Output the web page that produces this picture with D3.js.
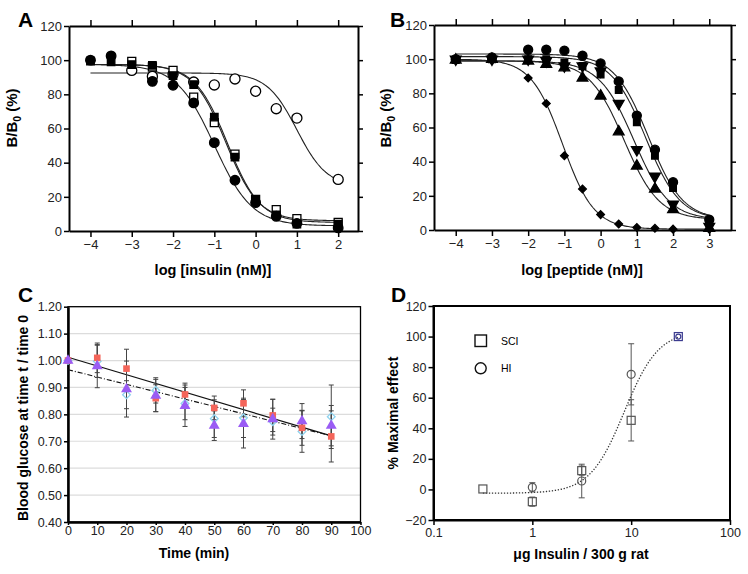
<!DOCTYPE html>
<html>
<head>
<meta charset="utf-8">
<script src="https://cdn.jsdelivr.net/npm/d3@7"></script>
<style>
body { margin: 0; background: #fff; }
text { font-family: "Liberation Sans", Arial, sans-serif; }
</style>
</head>
<body>
<script>
// ---- panel A : insulin competition ----
var logInsulin = [-4, -3.5, -3, -2.5, -2, -1.5, -1, -0.5, 0, 0.5, 1, 2];
var aFilledCircle = [100, 102.5, null, 87.6, 85.3, 75, 51.7, 29.7, 16.6, 8.6, 4.5, 1.8];
var aFilledSquare = [99.5, 99, 97.4, 97, 91, 85.7, 66.7, 43.3, 18, 9.5, 4, 4];
var aOpenSquare = [null, null, 99.3, 96, 94, 78.4, 63.4, 45, 18.5, 12.5, 7.2, 5];
var aOpenCircle = [null, null, 94, 90.5, 91.7, 87.2, 85.5, 89, 81.8, 71.6, 66.1, 30.2];
// fit parameters: top, bottom, logIC50, hill
var aFitFilledCircle = [97.5, 3, -1.0, 0.95];
var aFitFilledSquare = [97.5, 5, -0.68, 1.1];
var aFitOpenSquare = [97.5, 6, -0.72, 1.1];
var aFitOpenCircle = [92.5, 26, 1.0, 1.2];

// ---- panel B : peptide competition ----
var logPeptide = [-4, -3, -2, -1.5, -1, -0.5, 0, 0.5, 1, 1.5, 2, 3];
var bCircle = [100, 101, 105.5, 105.5, 105, 102, 97.5, 87, 67, 47, 28, 6];
var bSquare = [99.5, 100, 100, 100, 98, 96, 91, 82, 63, 43.5, 24.5, 5];
var bDown = [100, 100, 100, 99, 96, 96, 93, 74, 47, 31.5, 15, 2];
var bUp = [99.5, 100, 99, 97, 95, 89, 78.5, 57.5, 37.5, 24, 12, 1];
var bDiamond = [100, 100, 89, 74, 43.5, 24, 9, 3.5, 1.5, 1, 0.5, 0.5];
var bFitCircle = [103, 6, 1.32, 0.92];
var bFitSquare = [101.5, 6, 1.25, 0.92];
var bFitDown = [99, 6, 0.92, 0.9];
var bFitUp = [99, 6, 0.65, 0.9];
var bFitDiamond = [100, 0.5, -1.05, 1.0];

// ---- panel C : blood glucose over time ----
var timeMin = [0, 10, 20, 30, 40, 50, 60, 70, 80, 90];
var cRed = [1.00, 1.01, 0.97, 0.86, 0.874, 0.824, 0.841, 0.796, 0.75, 0.718];
var cRedErr = [0, 0.055, 0.072, 0.05, 0.042, 0.044, 0.05, 0.06, 0.065, 0.095];
var cPurple = [1.00, 0.979, 0.894, 0.87, 0.832, 0.758, 0.765, 0.782, 0.775, 0.758];
var cPurpleErr = [0, 0.08, 0.104, 0.06, 0.077, 0.055, 0.09, 0.074, 0.065, 0.075];
var cBlue = [1.00, 0.997, 0.873, 0.889, 0.84, 0.784, 0.787, 0.773, 0.736, 0.791];
var cBlueErr = [0, 0.06, 0.052, 0.047, 0.06, 0.07, 0.073, 0.05, 0.077, 0.118];
// regression lines: [t0, y0, t1, y1]
var cLineSolid = [0, 1.012, 90, 0.72];
var cLineDash = [0, 0.966, 90, 0.72];
var cYTicks = [0.40, 0.50, 0.60, 0.70, 0.80, 0.90, 1.00, 1.10, 1.20];
var cXTicks = [0, 10, 20, 30, 40, 50, 60, 70, 80, 90, 100];

// ---- panel D : dose response ----
var doseSCI = [0.316, 1, 3.16, 10, 30];
var effSCI = [0.3, -8, 12.3, 45.2, 100];
var errSCI = [0, 3, 3, 13.5, 0];
var doseHI = [1, 3.16, 10, 30];
var effHI = [1.4, 5.5, 75.3, 100];
var errHI = [3, 11, 20, 0];
var dFit = [104, -2.5, 0.93, 2.5];
var dXTicks = [0.1, 1, 10, 100];
var dYTicks = [-20, 0, 20, 40, 60, 80, 100, 120];

function logistic(p, x) {
  return p[1] + (p[0] - p[1]) / (1 + Math.pow(10, (x - p[2]) * p[3]));
}

var svg = d3.select("body").append("svg")
  .attr("width", 748).attr("height", 574);

function styleAxis(g, size) {
  g.attr("font-family", null).attr("font-size", size);
  g.selectAll("text").attr("fill", "#222");
  g.selectAll("path,line").attr("stroke", "#000");
  g.select(".domain").attr("stroke-width", 2);
  g.selectAll(".tick line").attr("stroke-width", 1.5);
}

// boxed axes with mirrored ticks (panels A and B)
function frameAxes(x, y, xTicks) {
  var r = x.range(), h = y.range();
  var b = svg.append("g").attr("transform", "translate(0," + h[0] + ")")
    .call(d3.axisBottom(x).tickValues(xTicks).tickSize(6).tickSizeOuter(0).tickPadding(3).tickFormat(d3.format("d")));
  styleAxis(b, 13);
  var t = svg.append("g").attr("transform", "translate(0," + h[1] + ")")
    .call(d3.axisTop(x).tickValues(xTicks).tickSize(6).tickSizeOuter(0).tickFormat(""));
  styleAxis(t, 13);
  var l = svg.append("g").attr("transform", "translate(" + r[0] + ",0)")
    .call(d3.axisLeft(y).tickValues(d3.range(0, 121, 20)).tickSize(5).tickSizeOuter(0).tickPadding(2));
  styleAxis(l, 13);
  var rr = svg.append("g").attr("transform", "translate(" + r[1] + ",0)")
    .call(d3.axisRight(y).tickValues(d3.range(0, 121, 20)).tickSize(5).tickSizeOuter(0).tickFormat(""));
  styleAxis(rr, 13);
}

function panelLetter(txt, x, y) {
  svg.append("text").attr("x", x).attr("y", y).text(txt)
    .attr("font-size", 21).attr("font-weight", "bold");
}

function bb0Label(x, y) {
  var t = svg.append("text").attr("transform", "translate(" + x + "," + y + ") rotate(-90)")
    .attr("text-anchor", "middle").attr("font-size", 15).attr("font-weight", "bold");
  t.append("tspan").text("B/B");
  t.append("tspan").text("0").attr("font-size", 10.5).attr("dy", 4);
  t.append("tspan").text(" (%)").attr("dy", -4);
}

function drawFit(x, y, p, x0, x1) {
  var pts = d3.range(0, 201).map(function(i){ var v = x0 + (x1 - x0) * i / 200; return [v, logistic(p, v)]; });
  svg.append("path").datum(pts)
    .attr("fill", "none").attr("stroke", "#222").attr("stroke-width", 1.1)
    .attr("d", d3.line().x(function(d){ return x(d[0]); }).y(function(d){ return y(d[1]); }));
}

function drawPoints(x, y, xs, ys, type, size, fill, rot) {
  var pts = xs.map(function(v, i){ return [v, ys[i]]; }).filter(function(d){ return d[1] != null; });
  svg.append("g").selectAll("path").data(pts).enter().append("path")
    .attr("d", d3.symbol().type(type).size(size))
    .attr("transform", function(d){ return "translate(" + x(d[0]) + "," + y(d[1]) + ")" + (rot ? " rotate(" + rot + ")" : ""); })
    .attr("fill", fill).attr("stroke", "#000").attr("stroke-width", 1.3);
}

// ================= A =================
var xA = d3.scaleLinear().domain([-4.52, 2.48]).range([69, 358]);
var yA = d3.scaleLinear().domain([0, 120]).range([231, 26]);
frameAxes(xA, yA, [-4, -3, -2, -1, 0, 1, 2]);
drawFit(xA, yA, aFitFilledCircle, -4, 2);
drawFit(xA, yA, aFitFilledSquare, -4, 2);
drawFit(xA, yA, aFitOpenSquare, -4, 2);
drawFit(xA, yA, aFitOpenCircle, -4, 2);
drawPoints(xA, yA, logInsulin, aOpenCircle, d3.symbolCircle, 80, "#fff");
drawPoints(xA, yA, logInsulin, aOpenSquare, d3.symbolSquare, 64, "#fff");
drawPoints(xA, yA, logInsulin, aFilledSquare, d3.symbolSquare, 56, "#000");
drawPoints(xA, yA, logInsulin, aFilledCircle, d3.symbolCircle, 72, "#000");
panelLetter("A", 18, 27);
bb0Label(17, 118);
svg.append("text").attr("x", 213).attr("y", 275).attr("text-anchor", "middle")
  .attr("font-size", 14.5).attr("font-weight", "bold").text("log [insulin (nM)]");

// ================= B =================
var xB = d3.scaleLinear().domain([-4.6, 3.6]).range([434, 731]);
var yB = d3.scaleLinear().domain([0, 120]).range([230, 25]);
frameAxes(xB, yB, [-4, -3, -2, -1, 0, 1, 2, 3]);
[bFitCircle, bFitSquare, bFitDown, bFitUp, bFitDiamond].forEach(function(p){ drawFit(xB, yB, p, -4, 3); });
drawPoints(xB, yB, logPeptide, bDiamond, d3.symbolSquare, 30, "#000", 45);
drawPoints(xB, yB, logPeptide, bUp, d3.symbolTriangle, 50, "#000");
drawPoints(xB, yB, logPeptide, bDown, d3.symbolTriangle, 50, "#000", 180);
drawPoints(xB, yB, logPeptide, bSquare, d3.symbolSquare, 44, "#000");
drawPoints(xB, yB, logPeptide, bCircle, d3.symbolCircle, 64, "#000");
panelLetter("B", 390, 27);
bb0Label(391, 118);
svg.append("text").attr("x", 582).attr("y", 275).attr("text-anchor", "middle")
  .attr("font-size", 14.5).attr("font-weight", "bold").text("log [peptide (nM)]");

// ================= C =================
var xC = d3.scaleLinear().domain([0, 100]).range([68, 360.5]);
var yC = d3.scaleLinear().domain([0.4, 1.2]).range([522, 306.7]);
svg.append("g").selectAll("line").data(cYTicks.slice(1, -1)).enter().append("line")
  .attr("x1", xC(0)).attr("x2", xC(100))
  .attr("y1", function(d){ return yC(d); }).attr("y2", function(d){ return yC(d); })
  .attr("stroke", "#dcdcdc").attr("stroke-width", 1.2);
svg.append("rect").attr("x", xC(0)).attr("y", yC(1.2))
  .attr("width", xC(100) - xC(0)).attr("height", yC(0.4) - yC(1.2))
  .attr("fill", "none").attr("stroke", "#000").attr("stroke-width", 1.3);
var cl = svg.append("g").attr("transform", "translate(" + xC(0) + ",0)")
  .call(d3.axisLeft(yC).tickValues(cYTicks).tickSize(4).tickSizeOuter(0).tickPadding(2).tickFormat(d3.format(".2f")));
styleAxis(cl, 12.5);
cl.select(".domain").attr("stroke-width", 2.5);
var cb = svg.append("g").attr("transform", "translate(0," + yC(0.4) + ")")
  .call(d3.axisBottom(xC).tickValues(cXTicks).tickSize(3).tickSizeOuter(0).tickPadding(1).tickFormat(d3.format("d")));
styleAxis(cb, 12.5);
cb.select(".domain").attr("stroke-width", 2.5);

// regression lines
svg.append("line").attr("x1", xC(cLineSolid[0])).attr("y1", yC(cLineSolid[1]))
  .attr("x2", xC(cLineSolid[2])).attr("y2", yC(cLineSolid[3]))
  .attr("stroke", "#111").attr("stroke-width", 1.1);
svg.append("line").attr("x1", xC(cLineDash[0])).attr("y1", yC(cLineDash[1]))
  .attr("x2", xC(cLineDash[2])).attr("y2", yC(cLineDash[3]))
  .attr("stroke", "#111").attr("stroke-width", 1.1).attr("stroke-dasharray", "5,2,1,2");

// error bars
function errBars(xs, ys, es) {
  var g = svg.append("g").attr("stroke", "#444").attr("stroke-width", 1);
  xs.forEach(function(t, i){
    if (!es[i]) return;
    var lo = yC(ys[i] - es[i]), hi = yC(ys[i] + es[i]), cx = xC(t);
    g.append("line").attr("x1", cx).attr("x2", cx).attr("y1", lo).attr("y2", hi);
    g.append("line").attr("x1", cx - 2.5).attr("x2", cx + 2.5).attr("y1", lo).attr("y2", lo);
    g.append("line").attr("x1", cx - 2.5).attr("x2", cx + 2.5).attr("y1", hi).attr("y2", hi);
  });
}
errBars(timeMin, cRed, cRedErr);
errBars(timeMin, cPurple, cPurpleErr);
errBars(timeMin, cBlue, cBlueErr);

svg.append("g").selectAll("path").data(timeMin).enter().append("path")
  .attr("d", d3.symbol().type(d3.symbolSquare).size(30))
  .attr("transform", function(d, i){ return "translate(" + xC(d) + "," + yC(cBlue[i]) + ") rotate(45)"; })
  .attr("fill", "none").attr("stroke", "#8fd3ef").attr("stroke-width", 1.3);
svg.append("g").selectAll("rect").data(timeMin).enter().append("rect")
  .attr("x", function(d){ return xC(d) - 3.3; }).attr("y", function(d, i){ return yC(cRed[i]) - 3.3; })
  .attr("width", 6.6).attr("height", 6.6).attr("fill", "#f4655a");
svg.append("g").selectAll("path").data(timeMin).enter().append("path")
  .attr("d", d3.symbol().type(d3.symbolTriangle).size(52))
  .attr("transform", function(d, i){ return "translate(" + xC(d) + "," + yC(cPurple[i]) + ")"; })
  .attr("fill", "#9a5cf4");

panelLetter("C", 18, 302);
svg.append("text").attr("transform", "translate(28,418) rotate(-90)").attr("text-anchor", "middle")
  .attr("font-size", 14).attr("font-weight", "bold").text("Blood glucose at time t / time 0");
svg.append("text").attr("x", 194).attr("y", 558).attr("text-anchor", "middle")
  .attr("font-size", 14).attr("font-weight", "bold").text("Time (min)");

// ================= D =================
var xD = d3.scaleLog().domain([0.1, 100]).range([433.5, 730]);
var yD = d3.scaleLinear().domain([-20, 120]).range([520, 306]);
svg.append("rect").attr("x", xD(0.1)).attr("y", yD(120))
  .attr("width", xD(100) - xD(0.1)).attr("height", yD(-20) - yD(120))
  .attr("fill", "none").attr("stroke", "#000").attr("stroke-width", 2);
var dl = svg.append("g").attr("transform", "translate(" + xD(0.1) + ",0)")
  .call(d3.axisLeft(yD).tickValues(dYTicks).tickSize(5).tickSizeOuter(0).tickPadding(2));
styleAxis(dl, 12.5);
var db = svg.append("g").attr("transform", "translate(0," + yD(-20) + ")")
  .call(d3.axisBottom(xD).tickValues(dXTicks).tickSize(5).tickSizeOuter(0).tickPadding(3).tickFormat(function(d){ return String(d); }));
styleAxis(db, 12.5);

var dPts = d3.range(0, 201).map(function(i){
  var lv = Math.log10(0.316) + (Math.log10(30) - Math.log10(0.316)) * i / 200;
  return [Math.pow(10, lv), logistic([dFit[1], dFit[0], dFit[2], dFit[3]], lv)];
});
svg.append("path").datum(dPts).attr("fill", "none").attr("stroke", "#333")
  .attr("stroke-width", 1.3).attr("stroke-dasharray", "1.3,1.7")
  .attr("d", d3.line().x(function(d){ return xD(d[0]); }).y(function(d){ return yD(d[1]); }));

function dErr(xs, ys, es) {
  var g = svg.append("g").attr("stroke", "#555").attr("stroke-width", 1);
  xs.forEach(function(v, i){
    if (!es[i]) return;
    var cx = xD(v), lo = yD(ys[i] - es[i]), hi = yD(ys[i] + es[i]);
    g.append("line").attr("x1", cx).attr("x2", cx).attr("y1", lo).attr("y2", hi);
    g.append("line").attr("x1", cx - 3).attr("x2", cx + 3).attr("y1", lo).attr("y2", lo);
    g.append("line").attr("x1", cx - 3).attr("x2", cx + 3).attr("y1", hi).attr("y2", hi);
  });
}
dErr(doseHI, effHI, errHI);
dErr(doseSCI, effSCI, errSCI);
svg.append("g").selectAll("rect").data(doseSCI).enter().append("rect")
  .attr("x", function(d){ return xD(d) - 4; }).attr("y", function(d, i){ return yD(effSCI[i]) - 4; })
  .attr("width", 8).attr("height", 8)
  .attr("fill", "none").attr("stroke", function(d){ return d === 30 ? "#3b3b8f" : "#555"; }).attr("stroke-width", 1.2);
svg.append("g").selectAll("circle").data(doseHI).enter().append("circle")
  .attr("cx", function(d){ return xD(d); }).attr("cy", function(d, i){ return yD(effHI[i]); })
  .attr("r", function(d){ return d === 30 ? 2.5 : 4; })
  .attr("fill", "none").attr("stroke", function(d){ return d === 30 ? "#3b3b8f" : "#555"; }).attr("stroke-width", 1.2);

// legend
svg.append("rect").attr("x", 475).attr("y", 335).attr("width", 11.5).attr("height", 11.5)
  .attr("fill", "none").attr("stroke", "#111").attr("stroke-width", 1.4);
svg.append("text").attr("x", 501).attr("y", 345).attr("font-size", 10.5).text("SCI");
svg.append("circle").attr("cx", 480.7).attr("cy", 368.3).attr("r", 5.5)
  .attr("fill", "none").attr("stroke", "#111").attr("stroke-width", 1.4);
svg.append("text").attr("x", 501).attr("y", 372).attr("font-size", 10.5).text("HI");

panelLetter("D", 391, 302);
svg.append("text").attr("transform", "translate(398,413) rotate(-90)").attr("text-anchor", "middle")
  .attr("font-size", 14).attr("font-weight", "bold").text("% Maximal effect");
svg.append("text").attr("x", 581).attr("y", 559).attr("text-anchor", "middle")
  .attr("font-size", 14).attr("font-weight", "bold").text("\u03bcg Insulin / 300 g rat");
</script>
</body>
</html>
